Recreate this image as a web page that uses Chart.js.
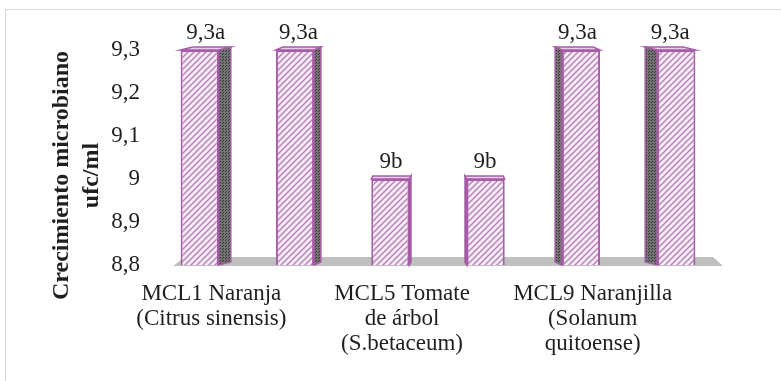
<!DOCTYPE html>
<html>
<head>
<meta charset="utf-8">
<script src="https://cdn.jsdelivr.net/npm/chart.js@4/dist/chart.umd.min.js"></script>
<style>
  html, body { margin: 0; padding: 0; background: #fff; }
  canvas { display: block; }
</style>
</head>
<body>
<canvas id="growthChart" width="781" height="381"></canvas>
<script>
// Datos del gráfico
const categories = [
    ['MCL1 Naranja', '(Citrus sinensis)'],
    ['MCL5 Tomate', 'de árbol', '(S.betaceum)'],
    ['MCL9 Naranjilla', '(Solanum', 'quitoense)']
];
const series1 = [9.3, 9.0, 9.3];
const series2 = [9.3, 9.0, 9.3];
const series1Labels = ['9,3a', '9b', '9,3a'];
const series2Labels = ['9,3a', '9b', '9,3a'];
const yTickLabels = ['8,8', '8,9', '9', '9,1', '9,2', '9,3'];
const yTitle = ['Crecimiento microbiano', 'ufc/ml'];

const purple = '#a65ca6';
const textColor = '#1f1f1f';
const serif = '"Liberation Serif", "Times New Roman", Times, serif';

// Motif hachuré (lignes diagonales)
function makeHatch() {
    const c = document.createElement('canvas');
    c.width = 6; c.height = 6;
    const g = c.getContext('2d');
    g.fillStyle = '#f7ebf7';
    g.fillRect(0, 0, 6, 6);
    g.strokeStyle = '#b77ab7';
    g.lineWidth = 1.3;
    g.beginPath();
    g.moveTo(0, 6); g.lineTo(6, 0);
    g.moveTo(-1, 1); g.lineTo(1, -1);
    g.moveTo(5, 7); g.lineTo(7, 5);
    g.stroke();
    return g.createPattern(c, 'repeat');
}

function makeDots() {
    const c = document.createElement('canvas');
    c.width = 3; c.height = 3;
    const g = c.getContext('2d');
    g.fillStyle = '#747474';
    g.fillRect(0, 0, 3, 3);
    g.fillStyle = '#333333';
    g.fillRect(0, 0, 1, 1);
    g.fillRect(1, 2, 1, 1);
    return g.createPattern(c, 'repeat');
}

const bar3d = {
    id: 'bar3d',
    beforeDraw(chart) {
        const ctx = chart.ctx;
        ctx.save();
        ctx.strokeStyle = '#d9d9d9';
        ctx.lineWidth = 1;
        ctx.strokeRect(5.5, 9.5, 800, 400);
        ctx.restore();
    },
    beforeDatasetsDraw(chart) {
        const { ctx, chartArea: a } = chart;
        ctx.save();
        ctx.fillStyle = '#bfbfbf';
        ctx.beginPath();
        ctx.moveTo(a.left + 21, a.bottom + 1);
        ctx.lineTo(a.left + 33, a.bottom - 8);
        ctx.lineTo(a.right - 11, a.bottom - 8);
        ctx.lineTo(a.right - 1, a.bottom + 1);
        ctx.closePath();
        ctx.fill();
        ctx.restore();
    },
    afterDatasetsDraw(chart) {
        const { ctx, chartArea: a } = chart;
        const vx = (a.left + a.right) / 2;
        const labelSets = [series1Labels, series2Labels];
        const dots = makeDots();
        ctx.save();
        chart.data.datasets.forEach((ds, di) => {
            const meta = chart.getDatasetMeta(di);
            meta.data.forEach((el, i) => {
                const left = el.x - el.width / 2;
                const right = el.x + el.width / 2;
                const edge = el.x < vx ? right : left;
                const s = (vx - edge) * 0.055;
                const dy = 3;
                const top = el.y, base = Math.min(el.base, a.bottom);
                // face latérale
                ctx.beginPath();
                ctx.moveTo(edge, top);
                ctx.lineTo(edge + s, top - dy);
                ctx.lineTo(edge + s, base - dy);
                ctx.lineTo(edge, base);
                ctx.closePath();
                ctx.fillStyle = dots;
                ctx.fill();
                ctx.strokeStyle = purple;
                ctx.lineWidth = 1.5;
                ctx.stroke();
                // face supérieure
                ctx.beginPath();
                ctx.moveTo(left, top);
                ctx.lineTo(left + s, top - dy);
                ctx.lineTo(right + s, top - dy);
                ctx.lineTo(right, top);
                ctx.closePath();
                ctx.fillStyle = '#e9cde9';
                ctx.fill();
                ctx.stroke();
                // étiquette
                ctx.fillStyle = textColor;
                ctx.font = '23px ' + serif;
                ctx.textAlign = 'center';
                ctx.textBaseline = 'middle';
                ctx.fillText(labelSets[di][i], el.x + s / 2, top - 17);
            });
        });
        // titre de l'axe Y
        ctx.fillStyle = textColor;
        ctx.font = 'bold 24px ' + serif;
        ctx.textAlign = 'center';
        ctx.textBaseline = 'middle';
        const cy = (a.top + a.bottom) / 2 + 18;
        yTitle.forEach((line, k) => {
            ctx.save();
            ctx.translate(a.left - 90 + k * 30, cy);
            ctx.rotate(-Math.PI / 2);
            ctx.fillText(line, 0, 0);
            ctx.restore();
        });
        ctx.restore();
    }
};

function draw() {
    const hatch = makeHatch();
    const ctx = document.getElementById('growthChart').getContext('2d');
    new Chart(ctx, {
        type: 'bar',
        data: {
            labels: categories,
            datasets: [{
                label: 'Serie 1',
                data: series1,
                backgroundColor: hatch,
                borderColor: purple,
                borderWidth: 2,
                categoryPercentage: 1.0,
                barPercentage: 0.4
            }, {
                label: 'Serie 2',
                data: series2,
                backgroundColor: hatch,
                borderColor: purple,
                borderWidth: 2,
                categoryPercentage: 1.0,
                barPercentage: 0.4
            }]
        },
        options: {
            responsive: false,
            animation: false,
            devicePixelRatio: 1,
            layout: { padding: { left: 43, top: 50, right: 57, bottom: 16 } },
            plugins: {
                legend: { display: false },
                tooltip: { enabled: false }
            },
            scales: {
                x: {
                    grid: { display: false, drawTicks: false },
                    border: { display: false },
                    ticks: {
                        color: textColor,
                        padding: 16,
                        labelOffset: -36,
                        maxRotation: 0,
                        autoSkip: false,
                        font: { family: serif, size: 23, lineHeight: '25px' }
                    },
                    afterFit(scale) { scale.height = 100; }
                },
                y: {
                    min: 8.8,
                    max: 9.3,
                    grid: { display: false, drawTicks: false },
                    border: { display: false },
                    ticks: {
                        stepSize: 0.1,
                        color: textColor,
                        padding: 12,
                        font: { family: serif, size: 23 },
                        callback: (v, i) => yTickLabels[i]
                    },
                    afterFit(scale) { scale.width = 109; }
                }
            }
        },
        plugins: [bar3d]
    });
}

Promise.all([
    document.fonts.load('23px "Liberation Serif"'),
    document.fonts.load('bold 24px "Liberation Serif"')
]).then(draw, draw);
</script>
</body>
</html>
